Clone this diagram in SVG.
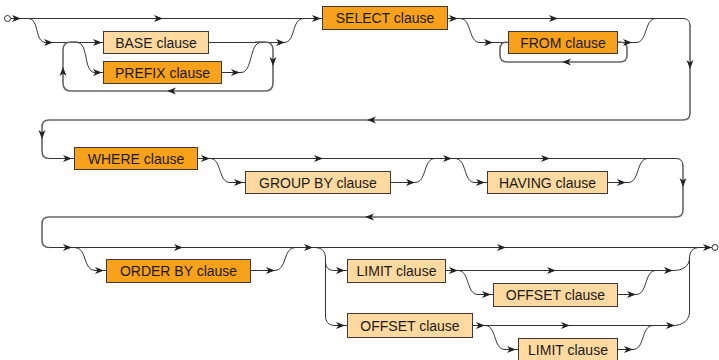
<svg xmlns="http://www.w3.org/2000/svg" xmlns:xlink="http://www.w3.org/1999/xlink" width="719" height="360" viewBox="0 0 719 360">
<style>
.dark{fill:#F9A11B;stroke:#3a3a3a;stroke-width:1}
.light{fill:#FFD9A0;stroke:#3a3a3a;stroke-width:1}
text{font-family:"Liberation Sans",Arial,sans-serif;font-size:14px;fill:#1a1a1a;text-anchor:middle;dominant-baseline:central}
.ln{fill:none;stroke:#333;stroke-width:1}
.rt{fill:none;stroke:#666;stroke-width:1.6}
</style>
<defs>
<path id="ah" d="M0,0 L-9,-3.5 L-6.5,0 L-9,3.5 Z" fill="#222"/>
</defs>
<rect width="719" height="360" fill="#fff"/>
<g id="connectors">
<!-- row 1 -->
<path class="ln" d="M11,18.5 H322"/>
<path class="ln" d="M28,18.5 C40,18.5 34,42.5 46,42.5 H103"/>
<path class="ln" d="M77,42.5 C89,42.5 83,72.5 95,72.5 H103"/>
<path class="ln" d="M208,42.5 H284 C296,42.5 291,18.5 304,18.5"/>
<path class="ln" d="M221,72.5 H241 C253,72.5 249,42.5 261,42.5"/>
<path class="rt" d="M255,42 H265 Q273,42 273,50 V83 Q273,91 265,91 H71 Q63,91 63,83 V50 Q63,42 71,42 H78"/>
<path class="ln" d="M447,18.5 H683 Q690,18.5 690,26"/>
<path class="rt" d="M690,25 V113 Q690,120 683,120 H49 Q42,120 42,127 V151 Q42,158.5 49,158.5"/>
<path class="ln" d="M49,158.5 H74"/>
<path class="ln" d="M460,18.5 C472,18.5 468,42.5 480,42.5 H508"/>
<path class="ln" d="M617,42.5 H636 C648,42.5 644,18.5 656,18.5"/>
<path class="rt" d="M617,42 H620 Q627,42 627,49 V55 Q627,62 620,62 H507 Q500,62 500,55 V49 Q500,42 507,42"/>
<!-- row 2 -->
<path class="ln" d="M197,158.5 H676 Q683,158.5 683,166"/>
<path class="rt" d="M683,165 V210 Q683,217 676,217 H49 Q42,217 42,224 V240 Q42,247.5 49,247.5"/>
<path class="ln" d="M210,158.5 C222,158.5 218,182.5 230,182.5 H245"/>
<path class="ln" d="M390,182.5 H415 C427,182.5 423,158.5 435,158.5"/>
<path class="ln" d="M455,158.5 C467,158.5 463,182.5 475,182.5 H487"/>
<path class="ln" d="M607,182.5 H628 C640,182.5 636,158.5 648,158.5"/>
<!-- row 3 -->
<path class="ln" d="M49,247.5 H712"/>
<path class="ln" d="M75,247.5 C87,247.5 83,270.5 95,270.5 H106"/>
<path class="ln" d="M250,270.5 H275 C287,270.5 283,247.5 295,247.5"/>
<path class="ln" d="M314,247.5 C322,247.5 325.5,251 325.5,259 V262 C325.5,267 328,270.5 335,270.5 H347"/>
<path class="ln" d="M325.5,260 V316 C325.5,321 328,325.5 335,325.5 H347"/>
<path class="ln" d="M445,270.5 H673 C683,270.5 689.5,266 689.5,258"/>
<path class="ln" d="M472,325.5 H673 C683,325.5 689.5,320 689.5,312 V259 C689.5,251 693,247.5 700,247.5"/>
<path class="ln" d="M458,270.5 C470,270.5 466,294.5 478,294.5 H493"/>
<path class="ln" d="M617,294.5 H636 C648,294.5 644,270.5 656,270.5"/>
<path class="ln" d="M485,325.5 C497,325.5 493,349.5 505,349.5 H518"/>
<path class="ln" d="M617,349.5 H633 C645,349.5 641,325.5 653,325.5"/>
<!-- arrowheads -->
<use xlink:href="#ah" transform="translate(21,18.5)"/>
<use xlink:href="#ah" transform="translate(163,18.5)"/>
<use xlink:href="#ah" transform="translate(321,18.5)"/>
<use xlink:href="#ah" transform="translate(53,42.5)"/>
<use xlink:href="#ah" transform="translate(102,42.5)"/>
<use xlink:href="#ah" transform="translate(102,72.5)"/>
<use xlink:href="#ah" transform="translate(285,42.5)"/>
<use xlink:href="#ah" transform="translate(240,72.5)"/>
<use xlink:href="#ah" transform="translate(273,66) rotate(90)"/>
<use xlink:href="#ah" transform="translate(167,91) rotate(180)"/>
<use xlink:href="#ah" transform="translate(63,67) rotate(-90)"/>
<use xlink:href="#ah" transform="translate(458,18.5)"/>
<use xlink:href="#ah" transform="translate(558,18.5)"/>
<use xlink:href="#ah" transform="translate(493,42.5)"/>
<use xlink:href="#ah" transform="translate(632,42.5)"/>
<use xlink:href="#ah" transform="translate(562,62) rotate(180)"/>
<use xlink:href="#ah" transform="translate(690,69) rotate(90)"/>
<use xlink:href="#ah" transform="translate(367,120) rotate(180)"/>
<use xlink:href="#ah" transform="translate(42,139) rotate(90)"/>
<use xlink:href="#ah" transform="translate(72,158.5)"/>
<use xlink:href="#ah" transform="translate(210,158.5)"/>
<use xlink:href="#ah" transform="translate(323,158.5)"/>
<use xlink:href="#ah" transform="translate(452,158.5)"/>
<use xlink:href="#ah" transform="translate(550,158.5)"/>
<use xlink:href="#ah" transform="translate(243,182.5)"/>
<use xlink:href="#ah" transform="translate(415,182.5)"/>
<use xlink:href="#ah" transform="translate(485,182.5)"/>
<use xlink:href="#ah" transform="translate(626,182.5)"/>
<use xlink:href="#ah" transform="translate(683,187) rotate(90)"/>
<use xlink:href="#ah" transform="translate(365,217) rotate(180)"/>
<use xlink:href="#ah" transform="translate(72,247.5)"/>
<use xlink:href="#ah" transform="translate(183,247.5)"/>
<use xlink:href="#ah" transform="translate(313,247.5)"/>
<use xlink:href="#ah" transform="translate(506,247.5)"/>
<use xlink:href="#ah" transform="translate(712,247.5)"/>
<use xlink:href="#ah" transform="translate(104,270.5)"/>
<use xlink:href="#ah" transform="translate(275,270.5)"/>
<use xlink:href="#ah" transform="translate(345,270.5)"/>
<use xlink:href="#ah" transform="translate(345,325.5)"/>
<use xlink:href="#ah" transform="translate(458,270.5)"/>
<use xlink:href="#ah" transform="translate(556,270.5)"/>
<use xlink:href="#ah" transform="translate(673,270.5)"/>
<use xlink:href="#ah" transform="translate(491,294.5)"/>
<use xlink:href="#ah" transform="translate(636,294.5)"/>
<use xlink:href="#ah" transform="translate(485,325.5)"/>
<use xlink:href="#ah" transform="translate(570,325.5)"/>
<use xlink:href="#ah" transform="translate(675,325.5)"/>
<use xlink:href="#ah" transform="translate(516,349.5)"/>
<use xlink:href="#ah" transform="translate(633,349.5)"/>
<circle cx="7.5" cy="18.5" r="3" fill="#fff" stroke="#333" stroke-width="1"/>
<circle cx="715" cy="247.5" r="3" fill="#fff" stroke="#333" stroke-width="1"/>
</g>
<g id="base"><rect class="light" x="103.5" y="31.5" width="105" height="22"/><text x="156" y="42.5">BASE clause</text></g>
<g id="prefix"><rect class="dark" x="103.5" y="61.5" width="118" height="22"/><text x="162.5" y="72.5">PREFIX clause</text></g>
<g id="select"><rect class="dark" x="322.5" y="6.5" width="125" height="23"/><text x="385" y="18">SELECT clause</text></g>
<g id="from"><rect class="dark" x="508.5" y="31.5" width="109" height="22"/><text x="563" y="42.5">FROM clause</text></g>
<g id="where"><rect class="dark" x="74.5" y="147.5" width="123" height="22"/><text x="136" y="158.5">WHERE clause</text></g>
<g id="groupby"><rect class="light" x="245.5" y="171.5" width="145" height="22"/><text x="318" y="182.5">GROUP BY clause</text></g>
<g id="having"><rect class="light" x="487.5" y="171.5" width="120" height="22"/><text x="547.5" y="182.5">HAVING clause</text></g>
<g id="orderby"><rect class="dark" x="106.5" y="259.5" width="144" height="23"/><text x="178.5" y="271">ORDER BY clause</text></g>
<g id="limit1"><rect class="light" x="347.5" y="259.5" width="98" height="23"/><text x="396.5" y="271">LIMIT clause</text></g>
<g id="offset1"><rect class="light" x="493.5" y="283.5" width="124" height="23"/><text x="555.5" y="295">OFFSET clause</text></g>
<g id="offset2"><rect class="light" x="347.5" y="313.5" width="125" height="24"/><text x="410" y="325.5">OFFSET clause</text></g>
<g id="limit2"><rect class="light" x="518.5" y="338.5" width="99" height="23"/><text x="568" y="350">LIMIT clause</text></g>
</svg>
